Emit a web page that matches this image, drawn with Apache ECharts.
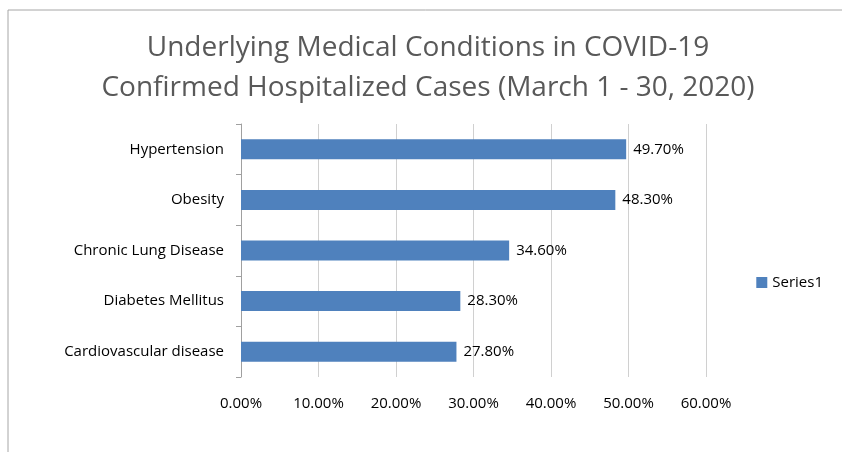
<!DOCTYPE html>
<html>
<head>
<meta charset="UTF-8">
<script src="https://cdn.jsdelivr.net/npm/echarts@6/dist/echarts.min.js"></script>
<style>
  body { margin: 0; background: #fff; overflow: hidden; }
  #chart { width: 842px; height: 452px; }
</style>
</head>
<body>
<div id="chart"></div>
<script>
// Categories bottom to top, as drawn
const conditions = ['Cardiovascular disease', 'Diabetes Mellitus', 'Chronic Lung Disease', 'Obesity', 'Hypertension']
const shares = [27.8, 28.3, 34.6, 48.3, 49.7]
const titleLines = ['Underlying Medical Conditions in COVID-19', 'Confirmed Hospitalized Cases (March 1 - 30, 2020)']

const FONT = 'Open Sans'
const chart = echarts.init(document.getElementById('chart'))

chart.setOption({
  animation: false,
  textStyle: { fontFamily: FONT },
  title: {
    text: titleLines.join('\n'),
    left: 423,
    top: 23,
    textAlign: 'center',
    textStyle: { fontFamily: FONT, fontSize: 28, fontWeight: 'normal', color: '#595959', lineHeight: 40 }
  },
  legend: {
    right: 14,
    top: 270,
    orient: 'vertical',
    itemWidth: 11,
    itemHeight: 11,
    icon: 'rect',
    itemGap: 4,
    textStyle: { fontFamily: FONT, fontSize: 15, color: '#000' },
    data: ['Series1']
  },
  graphic: [{
    type: 'polyline',
    shape: { points: [[8, 460], [8, 10], [850, 10]] },
    style: { stroke: '#a6a6a6', lineWidth: 1, fill: null }
  }],
  grid: { left: 241, right: 136, top: 124, bottom: 75 },
  xAxis: {
    type: 'value',
    min: 0,
    max: 60,
    interval: 10,
    axisLine: { show: false },
    axisTick: { show: false },
    axisLabel: {
      margin: 19,
      fontSize: 15,
      color: '#000',
      formatter: v => v.toFixed(2) + '%'
    },
    splitLine: { show: true, lineStyle: { color: '#d0d0d0' } }
  },
  yAxis: {
    type: 'category',
    data: conditions,
    axisLine: { show: true, lineStyle: { color: '#a0a0a0' } },
    axisTick: { show: true, length: 5, lineStyle: { color: '#a0a0a0' } },
    axisLabel: { margin: 17, fontSize: 15, color: '#000' }
  },
  series: [{
    name: 'Series1',
    type: 'bar',
    data: shares,
    barWidth: 20,
    itemStyle: { color: '#4f81bd' },
    label: {
      show: true,
      position: 'right',
      distance: 7,
      fontSize: 15,
      color: '#000',
      formatter: p => p.value.toFixed(2) + '%'
    }
  }]
})
</script>
</body>
</html>
